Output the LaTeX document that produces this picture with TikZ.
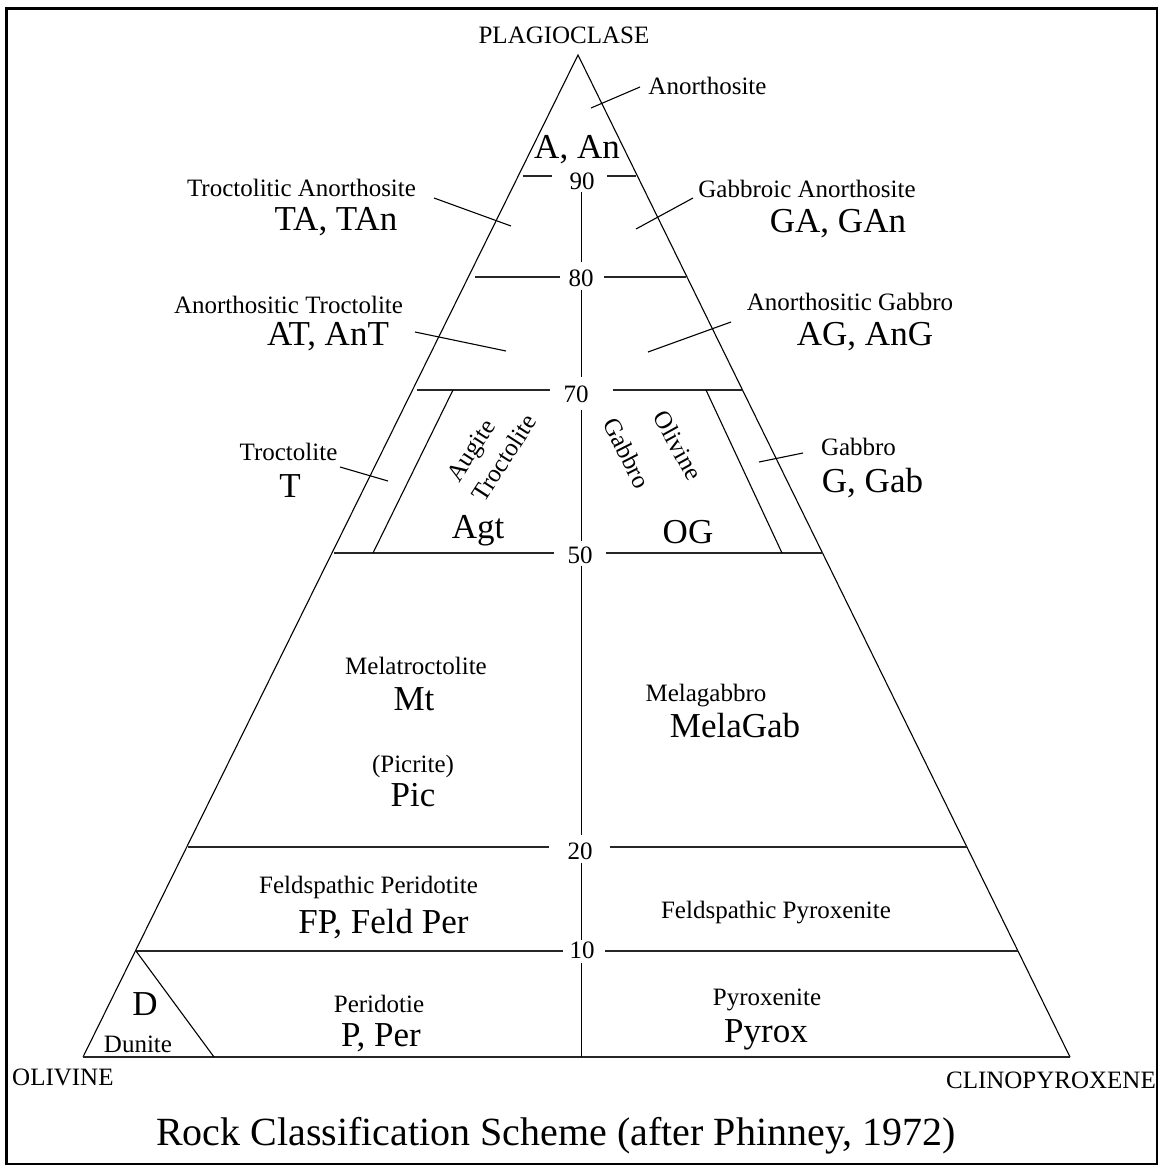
\documentclass[tikz,border=0pt]{standalone}
\usepackage{fontspec}
\setmainfont{Liberation Serif}
\usetikzlibrary{calc}
\begin{document}
\begin{tikzpicture}[x=1pt,y=-1pt,
  sm/.style={inner sep=0pt,anchor=base,font=\fontsize{25}{30}\selectfont},
  lg/.style={inner sep=0pt,anchor=base,font=\fontsize{35}{42}\selectfont},
  rot/.style={inner sep=0pt,font=\fontsize{25}{30}\selectfont},
  side/.style={line width=1.1pt},
  lvl/.style={line width=1.5pt,draw=black!85},
  lead/.style={line width=1.1pt}]
\useasboundingbox (0,0) rectangle (1161,1167);
\draw[line width=2.6pt] (6.5,8.5) rectangle (1157,1164);
% vertices
\coordinate (P) at (578,55);
\coordinate (O) at (83,1057);
\coordinate (C) at (1070,1057);
\draw[side] (O) -- (P) -- (C);
\draw[lvl] (O) -- (C);
% level lines
\draw[lvl] (523,176) -- (552,176);  \draw[lvl] (607,176) -- (636,176);
\draw[lvl] (475,277) -- (560,277);  \draw[lvl] (604,277) -- (686,277);
\draw[lvl] (417,390) -- (550,390);  \draw[lvl] (613,390) -- (742,390);
\draw[lvl] (334,553) -- (554,553);  \draw[lvl] (606,553) -- (823,553);
\draw[lvl] (188,847) -- (549,847);  \draw[lvl] (610,847) -- (967,847);
\draw[lvl] (136,951) -- (563,951);  \draw[lvl] (605,951) -- (1018,951);
% central vertical
\draw[side] (581.5,192) -- (581.5,262);
\draw[side] (581.5,290) -- (581.5,377);
\draw[side] (581.5,410) -- (581.5,541);
\draw[side] (581.5,566) -- (581.5,835);
\draw[side] (581.5,863) -- (581.5,940);
\draw[side] (581.5,963) -- (581.5,1057);
% inner boundaries
\draw[side] (453,390) -- (373,553);
\draw[side] (706,390) -- (782,553);
\draw[side] (136,951) -- (214,1057);
% level numbers
\node[sm] (n90) at (582,189) {90};
\node[sm] (n80) at (581,286) {80};
\node[sm] (n70) at (576,402) {70};
\node[sm] (n50) at (580,563) {50};
\node[sm] (n20) at (580,859) {20};
\node[sm] (n10) at (582,958) {10};
% labels
\node[sm] (plag) at (564,43) {PLAGIOCLASE};
\node[sm] (anor) at (707.5,94) {Anorthosite};
\node[lg] (aan) at (577,158) {A, An};
\node[sm] (ta1) at (301.5,196) {Troctolitic Anorthosite};
\node[lg] (ta2) at (336,230) {TA, TAn};
\node[sm] (ga1) at (807,197) {Gabbroic Anorthosite};
\node[lg] (ga2) at (838,232) {GA, GAn};
\node[sm] (at1) at (288.5,313) {Anorthositic Troctolite};
\node[lg] (at2) at (328,345) {AT, AnT};
\node[sm] (ag1) at (850,310) {Anorthositic Gabbro};
\node[lg] (ag2) at (865,345) {AG, AnG};
\node[sm] (t1) at (288.5,460) {Troctolite};
\node[lg] (t2) at (290,497) {T};
\node[sm] (g1) at (858.5,455) {Gabbro};
\node[lg] (g2) at (872.5,492) {G, Gab};
\node[rot,rotate=57] (aug) at (473,452) {Augite};
\node[rot,rotate=57] (troc) at (504,458) {Troctolite};
\node[lg] (agt) at (478,538) {Agt};
\node[rot,rotate=-61] (oliv) at (678,445) {Olivine};
\node[rot,rotate=-63] (gab) at (627,453) {Gabbro};
\node[lg] (og) at (688,543) {OG};
\node[sm] (mt1) at (416,674) {Melatroctolite};
\node[lg] (mt2) at (414,710) {Mt};
\node[sm] (mg1) at (706,701) {Melagabbro};
\node[lg] (mg2) at (735,737) {MelaGab};
\node[sm] (pic1) at (413,772) {(Picrite)};
\node[lg] (pic2) at (413,806) {Pic};
\node[sm] (fp1) at (368.5,893) {Feldspathic Peridotite};
\node[lg] (fp2) at (383.5,933) {FP, Feld Per};
\node[sm] (fpy) at (776,918) {Feldspathic Pyroxenite};
\node[sm] (per1) at (379,1012) {Peridotie};
\node[lg] (per2) at (381,1046) {P, Per};
\node[sm] (px1) at (767,1005) {Pyroxenite};
\node[lg] (px2) at (766,1042) {Pyrox};
\node[lg] (d2) at (145,1015) {D};
\node[sm] (d1) at (138,1052) {Dunite};
\node[sm,anchor=base west] (oli) at (12,1085) {OLIVINE};
\node[sm,anchor=base east] (cpx) at (1156,1088) {CLINOPYROXENE};
\node[inner sep=0pt,anchor=base,font=\fontsize{40}{48}\selectfont] (title) at (556,1145) {Rock Classification Scheme (after Phinney, 1972)};
% leader lines
\coordinate (la) at (591,108);  \coordinate (la2) at (640,87);
\coordinate (lta) at (434,198); \coordinate (lta2) at (511,226);
\coordinate (lga) at (636,229); \coordinate (lga2) at (693,198);
\coordinate (lat) at (415,332); \coordinate (lat2) at (506,351);
\coordinate (lag) at (648,352); \coordinate (lag2) at (731,322);
\coordinate (lt) at (340,467);  \coordinate (lt2) at (388,481);
\coordinate (lg) at (759,462);  \coordinate (lg2) at (803,453);
\draw[lead] (la) -- (la2);
\draw[lead] (lta) -- (lta2);
\draw[lead] (lga) -- (lga2);
\draw[lead] (lat) -- (lat2);
\draw[lead] (lag) -- (lag2);
\draw[lead] (lt) -- (lt2);
\draw[lead] (lg) -- (lg2);
\end{tikzpicture}
\end{document}
